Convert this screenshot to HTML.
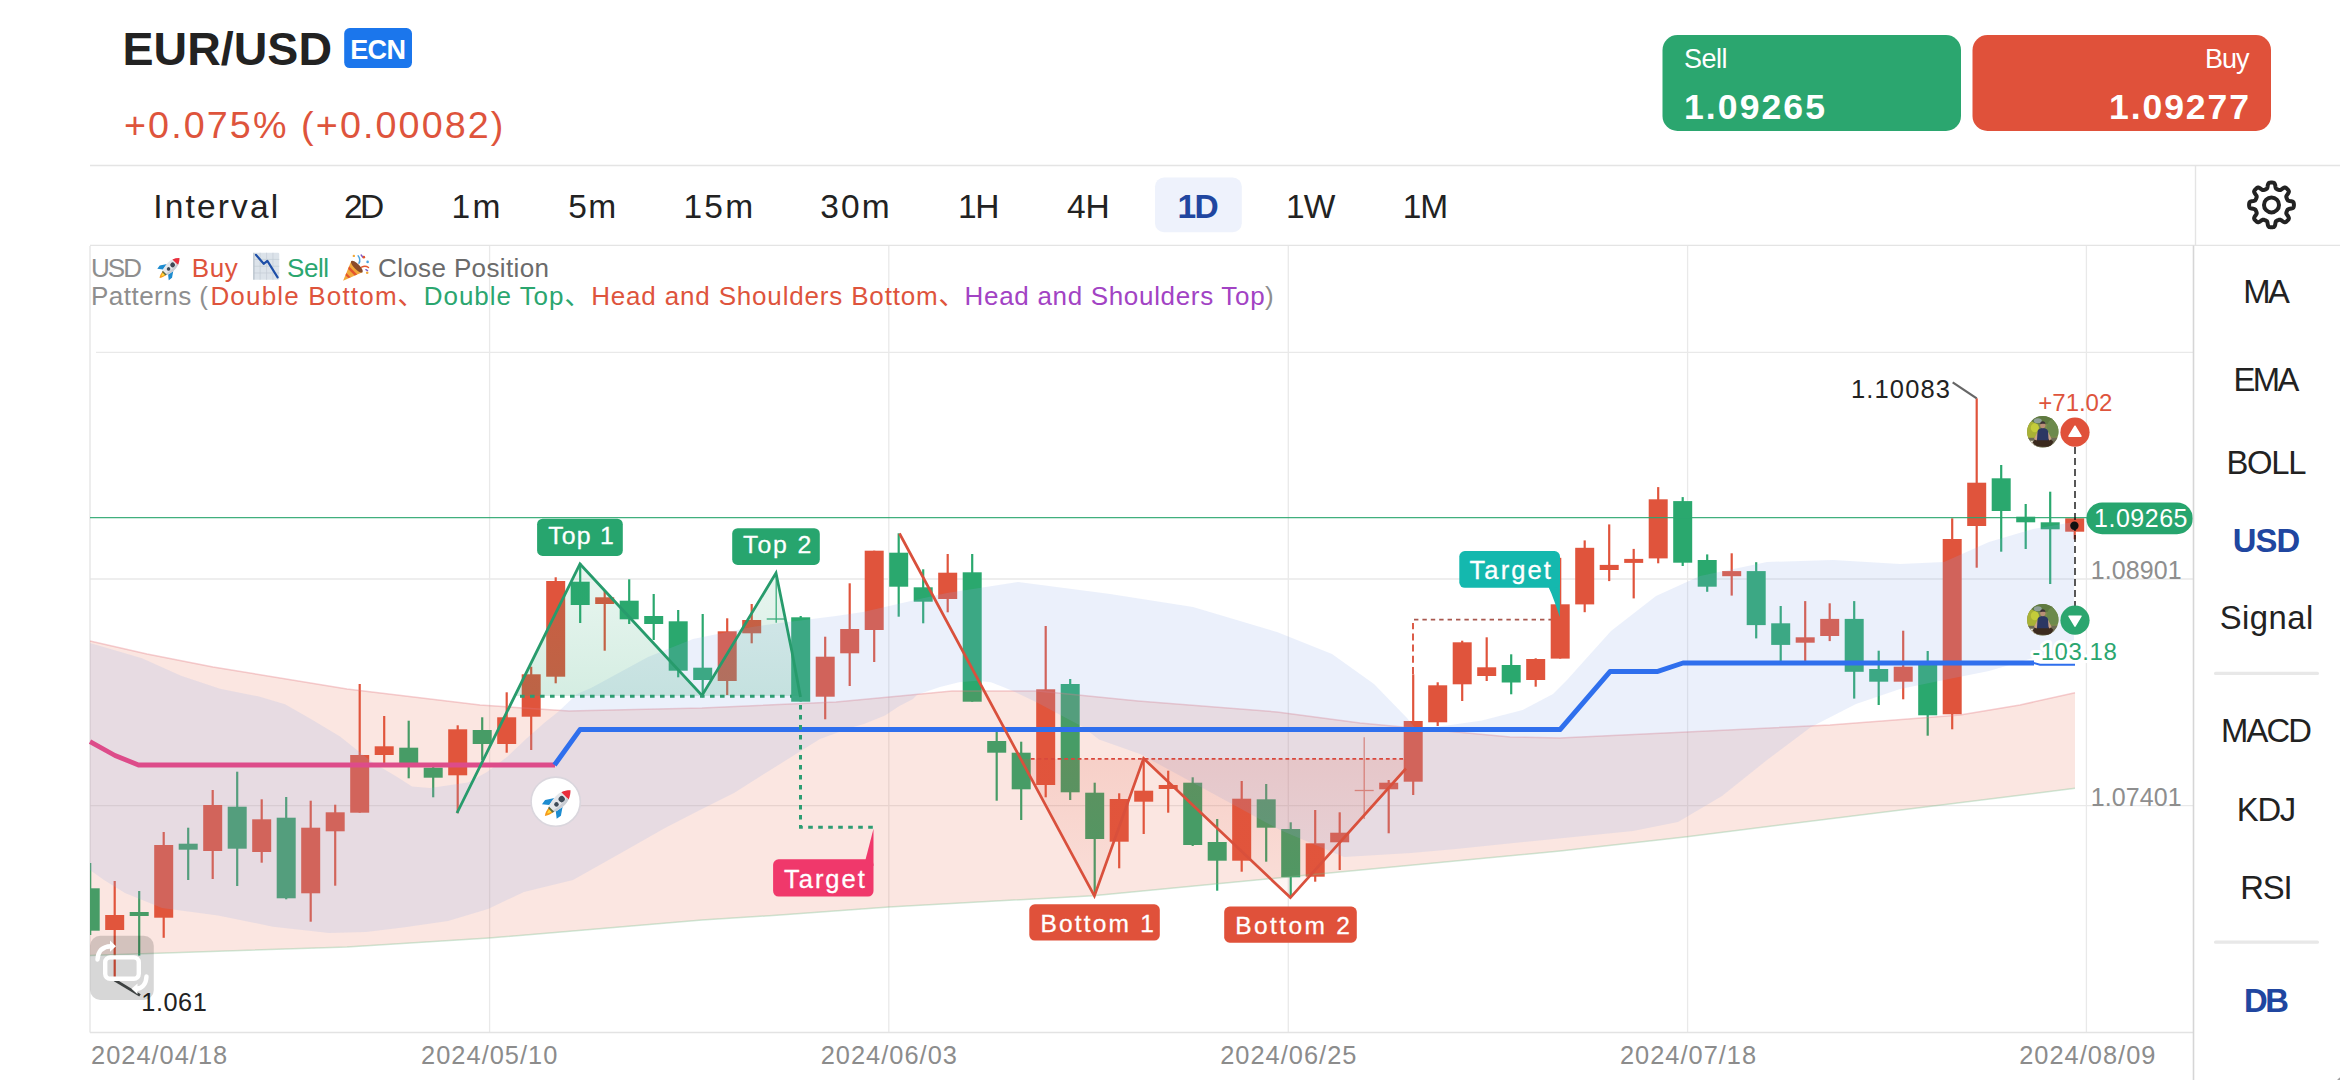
<!DOCTYPE html>
<html lang="en"><head><meta charset="utf-8"><title>EUR/USD</title>
<style>
html,body{margin:0;padding:0;background:#fff;}
body{width:2340px;height:1080px;overflow:hidden;position:relative;font-family:'Liberation Sans', sans-serif;}
svg{position:absolute;left:0;top:0;display:block;}
svg text{font-family:"Liberation Sans","Noto Sans CJK SC",sans-serif;}
</style></head><body>
<svg width="2340" height="1080" viewBox="0 0 2340 1080">
<defs>
<symbol id="rocket" viewBox="0 0 36 36">
 <g transform="rotate(45 18 18)">
  <path d="M14.800 27.500c.2 4.500 1.500 7.500 3.200 9.500 1.700-2 3-5 3.200-9.500z" fill="#F59B1C"/>
  <path d="M16.300 27.500c.1 2.800.8 4.800 1.700 6.200.9-1.400 1.600-3.400 1.700-6.200z" fill="#FFD93B"/>
  <path d="M12.300 17.500 6.800 25.500l.8 5.200 5.700-4.500zM23.700 17.500l5.500 8-.8 5.200-5.700-4.500z" fill="#1D8CD0"/>
  <path d="M18 .8c-4 3.800-6.300 9-6.300 14.500 0 4.500 1 8.700 2.300 12.200h8c1.300-3.500 2.300-7.700 2.300-12.200 0-5.500-2.300-10.700-6.300-14.500z" fill="#E4E6EA"/>
  <path d="M18 .8c-2.300 2.200-4 4.800-5.100 7.700h10.200C22 5.600 20.300 3 18 .8z" fill="#EA2E3C"/>
  <path d="M22 27.500c1.300-3.500 2.300-7.700 2.300-12.200 0-2.300-.4-4.600-1.200-6.800h-2.300c1 5.500.8 12.500-1 19z" fill="#C9CDD4"/>
  <circle cx="18" cy="13.200" r="3.100" fill="#3E4A57"/>
  <circle cx="18" cy="20.600" r="2.300" fill="#3E4A57"/>
  <path d="M14.300 27.500h7.400l-.6 1.800h-6.200z" fill="#5B6A48"/>
 </g>
</symbol>
<symbol id="chartdn" viewBox="0 0 36 36">
 <rect x="2.500" y="1.500" width="31" height="33" rx="1.500" fill="#DCE3EA"/>
 <g stroke="#C3CDD6" stroke-width="0.8">
  <path d="M2.500 9.700h31M2.500 18h31M2.500 26.200h31M10.200 1.500v33M18 1.500v33M25.800 1.500v33"/>
 </g>
 <path d="M2.500 1.500v33" stroke="#B5C0CA" stroke-width="1.6"/>
 <polyline points="5,4 14.500,15 19,11.500 31.500,31.500" fill="none" stroke="#1E4FA8" stroke-width="2.600" stroke-linejoin="round" stroke-linecap="round"/>
</symbol>
<symbol id="party" viewBox="0 0 36 36">
 <path d="M3 33.500 12.500 10.500 25.500 23.500z" fill="#F2A93B"/>
 <path d="M6.800 24.300l4.900 4.900-2.600 1.100-3.400-3.400zM10 16.600l9.400 9.400-3 1.200-7.600-7.600z" fill="#E4572E"/>
 <ellipse cx="19" cy="17" rx="3.200" ry="9.200" transform="rotate(-45 19 17)" fill="#8A4B2A"/>
 <path d="M21.500 13c1.500-3 1-6-1-8.500" fill="none" stroke="#4AA3DF" stroke-width="1.800" stroke-linecap="round"/>
 <path d="M24.500 17.500c3-1.500 6-1 8 .5" fill="none" stroke="#E4572E" stroke-width="1.800" stroke-linecap="round"/>
 <circle cx="27" cy="6" r="1.600" fill="#E4572E"/><circle cx="31.500" cy="11.500" r="1.500" fill="#4AA3DF"/>
 <circle cx="15.500" cy="4.500" r="1.400" fill="#F2A93B"/><circle cx="31" cy="24" r="1.500" fill="#F2A93B"/>
 <path d="M24 3.500l1.500 2M29.500 20.500l2 1" stroke="#7E57C2" stroke-width="1.600" stroke-linecap="round"/>
</symbol>
<symbol id="avatar" viewBox="0 0 32 32">
 <clipPath id="avc"><circle cx="16" cy="16" r="15.700"/></clipPath>
 <g clip-path="url(#avc)">
  <rect width="32" height="32" fill="#7C8B4C"/>
  <ellipse cx="5" cy="15" rx="8" ry="9" fill="#A9B236"/>
  <ellipse cx="8" cy="12" rx="4" ry="4.500" fill="#C4CC3A"/>
  <ellipse cx="16" cy="3" rx="12" ry="5.500" fill="#5F7A40"/>
  <ellipse cx="27" cy="12" rx="7" ry="9" fill="#6C8A4C"/>
  <ellipse cx="11" cy="5" rx="4" ry="2.500" fill="#8FA098"/>
  <rect x="0" y="22" width="32" height="10" fill="#6D6A55"/>
  <path d="M0 25h7l4 7H0z" fill="#E9E2D2"/>
  <path d="M5.500 26.500c3-3.500 7-4.500 10.500-4.500s8 1 10.500 4l-2.500 4.500c-6 1-12 .5-16-1z" fill="#3B2A1E"/>
  <path d="M11 15.500l-3.800 7.800 2.400 1.400 3.200-6zM21 15.500l3.800 7.800-2.400 1.400-3.200-6z" fill="#C9A184"/>
  <path d="M10.800 15.200c1-2.200 2.800-3 5.200-3s4.200.8 5.200 3l.6 9.300H10.200z" fill="#2C3763"/>
  <ellipse cx="16" cy="9.300" rx="2.700" ry="3.100" fill="#B98F76"/>
  <path d="M13.200 8.600c.2-2.200 1.300-3.100 2.800-3.100s2.600.9 2.800 3.100c-1-.8-4.600-.8-5.600 0z" fill="#3A3036"/>
 </g>
</symbol>
</defs>
<g stroke="#E9E9E9" stroke-width="1.3" fill="none">
<line x1="96" y1="352.3" x2="2193" y2="352.3"/>
<line x1="90" y1="579" x2="2193" y2="579"/>
<line x1="90" y1="805.7" x2="2193" y2="805.7"/>
<line x1="489.6" y1="246" x2="489.6" y2="1032"/>
<line x1="888.8" y1="246" x2="888.8" y2="1032"/>
<line x1="1288.3" y1="246" x2="1288.3" y2="1032"/>
<line x1="1687.6" y1="246" x2="1687.6" y2="1032"/>
<line x1="2086.4" y1="246" x2="2086.4" y2="1032"/>
</g>
<g stroke="#E3E3E3" stroke-width="1.3" fill="none">
<line x1="90" y1="246" x2="90" y2="1032.5"/>
<line x1="90" y1="1032.5" x2="2193" y2="1032.5"/>
</g>
<clipPath id="cc"><rect x="90" y="246" width="2104" height="786"/></clipPath>
<g clip-path="url(#cc)">
<line x1="90.2" y1="863" x2="90.2" y2="935" stroke="#2AA86E" stroke-width="2.2"/>
<rect x="80.7" y="888.3" width="19.0" height="42.4" fill="#2AA86E"/>
<line x1="114.7" y1="881" x2="114.7" y2="977" stroke="#E0543C" stroke-width="2.2"/>
<rect x="105.2" y="915" width="19.0" height="15.0" fill="#E0543C"/>
<line x1="139.2" y1="891" x2="139.2" y2="955.6" stroke="#2AA86E" stroke-width="2.2"/>
<rect x="129.7" y="912" width="19.0" height="4.0" fill="#2AA86E"/>
<line x1="163.7" y1="832" x2="163.7" y2="937.8" stroke="#E0543C" stroke-width="2.2"/>
<rect x="154.2" y="845" width="19.0" height="72.7" fill="#E0543C"/>
<line x1="188.2" y1="827.7" x2="188.2" y2="880" stroke="#2AA86E" stroke-width="2.2"/>
<rect x="178.7" y="843.7" width="19.0" height="6.0" fill="#2AA86E"/>
<line x1="212.7" y1="790" x2="212.7" y2="879" stroke="#E0543C" stroke-width="2.2"/>
<rect x="203.2" y="805" width="19.0" height="46.0" fill="#E0543C"/>
<line x1="237.2" y1="771.7" x2="237.2" y2="886" stroke="#2AA86E" stroke-width="2.2"/>
<rect x="227.7" y="806.7" width="19.0" height="42.0" fill="#2AA86E"/>
<line x1="261.7" y1="799.3" x2="261.7" y2="862.7" stroke="#E0543C" stroke-width="2.2"/>
<rect x="252.2" y="819.3" width="19.0" height="32.7" fill="#E0543C"/>
<line x1="286.2" y1="797" x2="286.2" y2="899.3" stroke="#2AA86E" stroke-width="2.2"/>
<rect x="276.7" y="817.7" width="19.0" height="80.6" fill="#2AA86E"/>
<line x1="310.7" y1="800.7" x2="310.7" y2="921.7" stroke="#E0543C" stroke-width="2.2"/>
<rect x="301.2" y="827.7" width="19.0" height="65.6" fill="#E0543C"/>
<line x1="335.2" y1="804.7" x2="335.2" y2="885.7" stroke="#E0543C" stroke-width="2.2"/>
<rect x="325.7" y="812.3" width="19.0" height="19.0" fill="#E0543C"/>
<line x1="359.7" y1="684" x2="359.7" y2="812.7" stroke="#E0543C" stroke-width="2.2"/>
<rect x="350.2" y="755" width="19.0" height="57.7" fill="#E0543C"/>
<line x1="384.2" y1="716" x2="384.2" y2="763.3" stroke="#E0543C" stroke-width="2.2"/>
<rect x="374.7" y="746.3" width="19.0" height="8.7" fill="#E0543C"/>
<line x1="408.7" y1="720.7" x2="408.7" y2="778.3" stroke="#2AA86E" stroke-width="2.2"/>
<rect x="399.2" y="747.7" width="19.0" height="18.3" fill="#2AA86E"/>
<line x1="433.2" y1="767" x2="433.2" y2="797.3" stroke="#2AA86E" stroke-width="2.2"/>
<rect x="423.7" y="767.7" width="19.0" height="10.0" fill="#2AA86E"/>
<line x1="457.7" y1="725.3" x2="457.7" y2="813.3" stroke="#E0543C" stroke-width="2.2"/>
<rect x="448.2" y="729.3" width="19.0" height="46.0" fill="#E0543C"/>
<line x1="482.2" y1="717.3" x2="482.2" y2="760" stroke="#2AA86E" stroke-width="2.2"/>
<rect x="472.7" y="730" width="19.0" height="14.0" fill="#2AA86E"/>
<line x1="506.7" y1="692.3" x2="506.7" y2="752.7" stroke="#E0543C" stroke-width="2.2"/>
<rect x="497.2" y="717.3" width="19.0" height="26.7" fill="#E0543C"/>
<line x1="531.2" y1="666.7" x2="531.2" y2="750" stroke="#E0543C" stroke-width="2.2"/>
<rect x="521.7" y="674.3" width="19.0" height="42.4" fill="#E0543C"/>
<line x1="555.7" y1="577.3" x2="555.7" y2="683.3" stroke="#E0543C" stroke-width="2.2"/>
<rect x="546.2" y="581" width="19.0" height="95.7" fill="#E0543C"/>
<line x1="580.2" y1="563" x2="580.2" y2="623" stroke="#2AA86E" stroke-width="2.2"/>
<rect x="570.7" y="581.7" width="19.0" height="23.3" fill="#2AA86E"/>
<line x1="604.7" y1="590" x2="604.7" y2="650.7" stroke="#E0543C" stroke-width="2.2"/>
<rect x="595.2" y="597.3" width="19.0" height="6.7" fill="#E0543C"/>
<line x1="629.2" y1="579.3" x2="629.2" y2="624" stroke="#2AA86E" stroke-width="2.2"/>
<rect x="619.7" y="600.7" width="19.0" height="18.6" fill="#2AA86E"/>
<line x1="653.7" y1="594" x2="653.7" y2="640" stroke="#2AA86E" stroke-width="2.2"/>
<rect x="644.2" y="616" width="19.0" height="8.0" fill="#2AA86E"/>
<line x1="678.2" y1="610" x2="678.2" y2="677.3" stroke="#2AA86E" stroke-width="2.2"/>
<rect x="668.7" y="621.3" width="19.0" height="49.4" fill="#2AA86E"/>
<line x1="702.7" y1="614" x2="702.7" y2="696.7" stroke="#2AA86E" stroke-width="2.2"/>
<rect x="693.2" y="667.7" width="19.0" height="12.3" fill="#2AA86E"/>
<line x1="727.2" y1="618.3" x2="727.2" y2="695" stroke="#E0543C" stroke-width="2.2"/>
<rect x="717.7" y="631.3" width="19.0" height="49.7" fill="#E0543C"/>
<line x1="751.7" y1="604" x2="751.7" y2="643.3" stroke="#E0543C" stroke-width="2.2"/>
<rect x="742.2" y="620" width="19.0" height="13.3" fill="#E0543C"/>
<line x1="776.2" y1="571.7" x2="776.2" y2="622.7" stroke="#3FAE7E" stroke-width="1.3"/>
<line x1="766.7" y1="619.0" x2="785.7" y2="619.0" stroke="#3FAE7E" stroke-width="1.3"/>
<line x1="800.7" y1="616" x2="800.7" y2="701.7" stroke="#2AA86E" stroke-width="2.2"/>
<rect x="791.2" y="617.3" width="19.0" height="84.4" fill="#2AA86E"/>
<line x1="825.2" y1="636.7" x2="825.2" y2="719.3" stroke="#E0543C" stroke-width="2.2"/>
<rect x="815.7" y="656.7" width="19.0" height="40.0" fill="#E0543C"/>
<line x1="849.7" y1="583.3" x2="849.7" y2="686" stroke="#E0543C" stroke-width="2.2"/>
<rect x="840.2" y="629" width="19.0" height="24.3" fill="#E0543C"/>
<line x1="874.2" y1="550.7" x2="874.2" y2="662" stroke="#E0543C" stroke-width="2.2"/>
<rect x="864.7" y="550.7" width="19.0" height="79.3" fill="#E0543C"/>
<line x1="898.7" y1="533.3" x2="898.7" y2="616.7" stroke="#2AA86E" stroke-width="2.2"/>
<rect x="889.2" y="552.7" width="19.0" height="34.0" fill="#2AA86E"/>
<line x1="923.2" y1="569.3" x2="923.2" y2="623.3" stroke="#2AA86E" stroke-width="2.2"/>
<rect x="913.7" y="587.3" width="19.0" height="14.4" fill="#2AA86E"/>
<line x1="947.7" y1="554" x2="947.7" y2="612.3" stroke="#E0543C" stroke-width="2.2"/>
<rect x="938.2" y="572.7" width="19.0" height="26.3" fill="#E0543C"/>
<line x1="972.2" y1="554" x2="972.2" y2="701.7" stroke="#2AA86E" stroke-width="2.2"/>
<rect x="962.7" y="572.3" width="19.0" height="129.4" fill="#2AA86E"/>
<line x1="996.7" y1="731.7" x2="996.7" y2="800.7" stroke="#2AA86E" stroke-width="2.2"/>
<rect x="987.2" y="741" width="19.0" height="11.7" fill="#2AA86E"/>
<line x1="1021.2" y1="741.7" x2="1021.2" y2="820" stroke="#2AA86E" stroke-width="2.2"/>
<rect x="1011.7" y="752.7" width="19.0" height="36.6" fill="#2AA86E"/>
<line x1="1045.7" y1="626" x2="1045.7" y2="797.3" stroke="#E0543C" stroke-width="2.2"/>
<rect x="1036.2" y="689.3" width="19.0" height="95.7" fill="#E0543C"/>
<line x1="1070.2" y1="679" x2="1070.2" y2="800" stroke="#2AA86E" stroke-width="2.2"/>
<rect x="1060.7" y="684" width="19.0" height="108.3" fill="#2AA86E"/>
<line x1="1094.7" y1="782.7" x2="1094.7" y2="895.7" stroke="#2AA86E" stroke-width="2.2"/>
<rect x="1085.2" y="792.7" width="19.0" height="46.3" fill="#2AA86E"/>
<line x1="1119.2" y1="793.3" x2="1119.2" y2="868.3" stroke="#E0543C" stroke-width="2.2"/>
<rect x="1109.7" y="799" width="19.0" height="42.7" fill="#E0543C"/>
<line x1="1143.7" y1="760" x2="1143.7" y2="834" stroke="#E0543C" stroke-width="2.2"/>
<rect x="1134.2" y="790.7" width="19.0" height="11.0" fill="#E0543C"/>
<line x1="1168.2" y1="770.7" x2="1168.2" y2="812.7" stroke="#E0543C" stroke-width="2.2"/>
<rect x="1158.7" y="785" width="19.0" height="4.0" fill="#E0543C"/>
<line x1="1192.7" y1="777.3" x2="1192.7" y2="846" stroke="#2AA86E" stroke-width="2.2"/>
<rect x="1183.2" y="782.7" width="19.0" height="62.3" fill="#2AA86E"/>
<line x1="1217.2" y1="819" x2="1217.2" y2="890.7" stroke="#2AA86E" stroke-width="2.2"/>
<rect x="1207.7" y="842" width="19.0" height="18.7" fill="#2AA86E"/>
<line x1="1241.7" y1="781" x2="1241.7" y2="871.7" stroke="#E0543C" stroke-width="2.2"/>
<rect x="1232.2" y="798.7" width="19.0" height="62.0" fill="#E0543C"/>
<line x1="1266.2" y1="784" x2="1266.2" y2="861.7" stroke="#2AA86E" stroke-width="2.2"/>
<rect x="1256.7" y="799.3" width="19.0" height="28.4" fill="#2AA86E"/>
<line x1="1290.7" y1="822.3" x2="1290.7" y2="896.7" stroke="#2AA86E" stroke-width="2.2"/>
<rect x="1281.2" y="829" width="19.0" height="48.3" fill="#2AA86E"/>
<line x1="1315.2" y1="810" x2="1315.2" y2="881.7" stroke="#E0543C" stroke-width="2.2"/>
<rect x="1305.7" y="843.3" width="19.0" height="33.4" fill="#E0543C"/>
<line x1="1339.7" y1="812.3" x2="1339.7" y2="870" stroke="#E0543C" stroke-width="2.2"/>
<rect x="1330.2" y="832.7" width="19.0" height="9.6" fill="#E0543C"/>
<line x1="1364.2" y1="737.3" x2="1364.2" y2="819" stroke="#E58A7A" stroke-width="1.3"/>
<line x1="1354.7" y1="790.5" x2="1373.7" y2="790.5" stroke="#E58A7A" stroke-width="1.3"/>
<line x1="1388.7" y1="780" x2="1388.7" y2="833.3" stroke="#E0543C" stroke-width="2.2"/>
<rect x="1379.2" y="782.7" width="19.0" height="6.6" fill="#E0543C"/>
<line x1="1413.2" y1="674.3" x2="1413.2" y2="795" stroke="#E0543C" stroke-width="2.2"/>
<rect x="1403.7" y="721" width="19.0" height="60.7" fill="#E0543C"/>
<line x1="1437.7" y1="682.3" x2="1437.7" y2="726" stroke="#E0543C" stroke-width="2.2"/>
<rect x="1428.2" y="685.3" width="19.0" height="37.0" fill="#E0543C"/>
<line x1="1462.2" y1="640.7" x2="1462.2" y2="701" stroke="#E0543C" stroke-width="2.2"/>
<rect x="1452.7" y="642.3" width="19.0" height="42.0" fill="#E0543C"/>
<line x1="1486.7" y1="637.3" x2="1486.7" y2="681" stroke="#E0543C" stroke-width="2.2"/>
<rect x="1477.2" y="667.3" width="19.0" height="8.7" fill="#E0543C"/>
<line x1="1511.2" y1="654.3" x2="1511.2" y2="694.3" stroke="#2AA86E" stroke-width="2.2"/>
<rect x="1501.7" y="665" width="19.0" height="17.5" fill="#2AA86E"/>
<line x1="1535.7" y1="658.3" x2="1535.7" y2="686.7" stroke="#E0543C" stroke-width="2.2"/>
<rect x="1526.2" y="659" width="19.0" height="21.0" fill="#E0543C"/>
<line x1="1560.2" y1="557.8" x2="1560.2" y2="658.6" stroke="#E0543C" stroke-width="2.2"/>
<rect x="1550.7" y="604.3" width="19.0" height="54.3" fill="#E0543C"/>
<line x1="1584.7" y1="540.4" x2="1584.7" y2="612.2" stroke="#E0543C" stroke-width="2.2"/>
<rect x="1575.2" y="547.8" width="19.0" height="56.6" fill="#E0543C"/>
<line x1="1609.2" y1="524.4" x2="1609.2" y2="581.1" stroke="#E0543C" stroke-width="2.2"/>
<rect x="1599.7" y="564.9" width="19.0" height="5.1" fill="#E0543C"/>
<line x1="1633.7" y1="548.9" x2="1633.7" y2="598.4" stroke="#E0543C" stroke-width="2.2"/>
<rect x="1624.2" y="558.9" width="19.0" height="4.0" fill="#E0543C"/>
<line x1="1658.2" y1="487.1" x2="1658.2" y2="563.3" stroke="#E0543C" stroke-width="2.2"/>
<rect x="1648.7" y="499.3" width="19.0" height="59.1" fill="#E0543C"/>
<line x1="1682.7" y1="497.1" x2="1682.7" y2="566" stroke="#2AA86E" stroke-width="2.2"/>
<rect x="1673.2" y="501.1" width="19.0" height="61.6" fill="#2AA86E"/>
<line x1="1707.2" y1="554.4" x2="1707.2" y2="591.8" stroke="#2AA86E" stroke-width="2.2"/>
<rect x="1697.7" y="560" width="19.0" height="26.7" fill="#2AA86E"/>
<line x1="1731.7" y1="553.3" x2="1731.7" y2="595.6" stroke="#E0543C" stroke-width="2.2"/>
<rect x="1722.2" y="571.1" width="19.0" height="5.1" fill="#E0543C"/>
<line x1="1756.2" y1="562.2" x2="1756.2" y2="638.4" stroke="#2AA86E" stroke-width="2.2"/>
<rect x="1746.7" y="571.1" width="19.0" height="54.0" fill="#2AA86E"/>
<line x1="1780.7" y1="606" x2="1780.7" y2="661.6" stroke="#2AA86E" stroke-width="2.2"/>
<rect x="1771.2" y="623.3" width="19.0" height="21.6" fill="#2AA86E"/>
<line x1="1805.2" y1="601.1" x2="1805.2" y2="661.6" stroke="#E0543C" stroke-width="2.2"/>
<rect x="1795.7" y="637.3" width="19.0" height="5.4" fill="#E0543C"/>
<line x1="1829.7" y1="603.3" x2="1829.7" y2="641.1" stroke="#E0543C" stroke-width="2.2"/>
<rect x="1820.2" y="618.9" width="19.0" height="17.1" fill="#E0543C"/>
<line x1="1854.2" y1="601.1" x2="1854.2" y2="698.6" stroke="#2AA86E" stroke-width="2.2"/>
<rect x="1844.7" y="618.9" width="19.0" height="52.9" fill="#2AA86E"/>
<line x1="1878.7" y1="650.7" x2="1878.7" y2="705" stroke="#2AA86E" stroke-width="2.2"/>
<rect x="1869.2" y="669" width="19.0" height="12.7" fill="#2AA86E"/>
<line x1="1903.2" y1="630.7" x2="1903.2" y2="699.3" stroke="#E0543C" stroke-width="2.2"/>
<rect x="1893.7" y="666.7" width="19.0" height="15.0" fill="#E0543C"/>
<line x1="1927.7" y1="651" x2="1927.7" y2="735.7" stroke="#2AA86E" stroke-width="2.2"/>
<rect x="1918.2" y="663.3" width="19.0" height="52.0" fill="#2AA86E"/>
<line x1="1952.2" y1="518.3" x2="1952.2" y2="729.3" stroke="#E0543C" stroke-width="2.2"/>
<rect x="1942.7" y="539" width="19.0" height="175.3" fill="#E0543C"/>
<line x1="1976.7" y1="398.3" x2="1976.7" y2="567.7" stroke="#E0543C" stroke-width="2.2"/>
<rect x="1967.2" y="482.7" width="19.0" height="43.3" fill="#E0543C"/>
<line x1="2001.2" y1="465" x2="2001.2" y2="551.7" stroke="#2AA86E" stroke-width="2.2"/>
<rect x="1991.7" y="478.3" width="19.0" height="32.7" fill="#2AA86E"/>
<line x1="2025.7" y1="504" x2="2025.7" y2="549" stroke="#2AA86E" stroke-width="2.2"/>
<rect x="2016.2" y="516.7" width="19.0" height="5.6" fill="#2AA86E"/>
<line x1="2050.2" y1="491.7" x2="2050.2" y2="584" stroke="#2AA86E" stroke-width="2.2"/>
<rect x="2040.7" y="522.3" width="19.0" height="7.0" fill="#2AA86E"/>
<line x1="2074.7" y1="518.3" x2="2074.7" y2="539.3" stroke="#E0543C" stroke-width="2.2"/>
<rect x="2065.2" y="518.3" width="19.0" height="13.4" fill="#E0543C"/>
<polygon points="90.0,641.0 147.0,654.0 213.0,667.0 347.0,689.0 480.0,705.0 569.0,711.0 702.0,708.0 836.0,702.0 900.0,696.0 952.0,691.0 1038.0,691.0 1138.0,701.0 1277.0,712.0 1360.0,723.0 1510.0,737.0 1560.0,738.0 1687.0,732.0 1830.0,725.0 1960.0,715.0 2020.0,705.0 2075.0,692.7 2075.0,788.3 1687.0,836.7 1560.0,851.0 1290.0,876.7 1093.0,895.7 889.0,907.0 780.0,915.0 702.0,920.0 489.0,938.0 347.0,947.0 90.0,955.6" fill="rgba(232,96,64,0.155)"/>
<polyline points="90.0,641.0 147.0,654.0 213.0,667.0 347.0,689.0 480.0,705.0 569.0,711.0 702.0,708.0 836.0,702.0 900.0,696.0 952.0,691.0 1038.0,691.0 1138.0,701.0 1277.0,712.0 1360.0,723.0 1510.0,737.0 1560.0,738.0 1687.0,732.0 1830.0,725.0 1960.0,715.0 2020.0,705.0 2075.0,692.7" fill="none" stroke="rgba(226,120,130,0.35)" stroke-width="1.5"/>
<polyline points="2075.0,788.3 1687.0,836.7 1560.0,851.0 1290.0,876.7 1093.0,895.7 889.0,907.0 780.0,915.0 702.0,920.0 489.0,938.0 347.0,947.0 90.0,955.6" fill="none" stroke="rgba(120,190,140,0.35)" stroke-width="1.5"/>
<polygon points="90.0,643.0 142.0,658.3 181.0,675.8 220.0,688.7 259.0,696.5 285.0,704.3 310.0,718.6 340.0,736.4 372.0,762.0 398.0,777.4 412.0,786.4 430.0,788.0 468.0,782.6 487.0,772.0 507.0,757.0 526.0,739.0 545.0,722.3 558.0,712.0 577.0,694.0 591.0,688.0 648.0,657.0 693.0,639.0 752.0,627.0 780.0,623.0 836.0,616.0 863.0,612.0 924.0,598.0 947.0,593.0 1018.0,582.0 1110.0,594.0 1193.0,607.0 1277.0,632.0 1332.0,654.0 1374.0,684.0 1407.0,718.0 1416.0,729.0 1447.0,725.5 1482.0,720.4 1522.6,710.0 1553.0,694.0 1567.0,680.0 1584.0,661.0 1611.0,631.0 1656.0,596.0 1700.0,576.0 1767.0,562.0 1833.0,560.0 1900.0,564.0 1944.0,562.0 1989.0,542.0 2033.0,529.0 2074.0,522.0 2074.0,653.0 2033.0,658.0 1989.0,671.0 1944.0,680.0 1900.0,689.0 1856.0,704.0 1811.0,727.0 1767.0,760.0 1722.0,796.0 1678.0,822.0 1633.0,831.0 1544.0,840.0 1456.0,849.0 1411.0,853.0 1344.0,857.0 1280.0,830.0 1221.0,798.0 1140.0,754.0 1099.0,739.6 1083.0,727.0 1036.0,702.0 1014.0,691.5 1005.0,687.8 991.0,682.2 977.0,680.8 959.0,682.2 940.0,687.0 917.0,694.7 913.0,699.0 899.0,706.3 885.0,715.6 864.0,724.0 850.0,728.0 820.0,739.0 789.6,758.0 734.0,793.0 700.0,810.0 665.0,828.0 621.0,853.0 573.0,880.0 524.0,892.0 488.0,909.0 448.0,921.0 403.0,927.6 366.0,932.0 329.0,933.0 273.0,926.7 218.0,915.6 162.0,908.0 125.0,893.0 104.0,880.0 90.0,870.0" fill="rgba(144,172,233,0.18)"/>
<linearGradient id="gf" x1="0" y1="0" x2="0" y2="1"><stop offset="0" stop-color="#2BA66F" stop-opacity="0.10"/><stop offset="1" stop-color="#2BA66F" stop-opacity="0.20"/></linearGradient>
<polygon points="514.6,696 580,563 702,696 776,572 800,696" fill="url(#gf)"/>
<linearGradient id="rf" x1="0" y1="0" x2="0" y2="1"><stop offset="0" stop-color="#E0513A" stop-opacity="0.15"/><stop offset="1" stop-color="#E0513A" stop-opacity="0.05"/></linearGradient>
<polygon points="1021.2,759 1094.4,896 1143.6,758.5 1290.4,897.6 1406,768.5 1406,759" fill="url(#rf)"/>
</g>
<polyline points="90,741.7 115,755.5 138.5,765 555,765" fill="none" stroke="#DD4C8A" stroke-width="4.8" stroke-linejoin="round"/>
<polyline points="554.5,765 580,729.6 1560,729.6 1610,671.6 1657.8,671.4 1683,663 2034,663" fill="none" stroke="#2F6FED" stroke-width="5" stroke-linejoin="round"/>
<polyline points="2030,662 2040,664.8 2075,664.8" fill="none" stroke="#2F6FED" stroke-width="2"/>
<line x1="90" y1="517.6" x2="2088" y2="517.6" stroke="#2BA66F" stroke-width="1.4" stroke-opacity="0.9"/>
<g fill="none" stroke="#279B6C" stroke-width="2.8" stroke-linejoin="miter">
<polyline points="457,813 580,564 702,695.5 776,573 792,652 800.5,697"/>
</g>
<g fill="none" stroke="#2C9D72" stroke-width="3" stroke-dasharray="4.6 5.4">
<line x1="520" y1="696.3" x2="792" y2="696.3"/>
<polyline points="800.5,705 800.5,827.3 874,827.3"/>
</g>
<g fill="none" stroke="#D9503C" stroke-width="2.7" stroke-linejoin="miter">
<polyline points="899.5,533.5 1094.4,896 1143.6,758.5 1290.4,897.6 1406,768.5"/>
</g>
<g fill="none" stroke="#D9483C" stroke-width="1.8" stroke-dasharray="3.8 2.9">
<line x1="1030.8" y1="758.8" x2="1404" y2="758.8"/>
</g>
<line x1="1413" y1="674" x2="1413" y2="623" stroke="#DB5540" stroke-width="1.9" stroke-dasharray="7 4.2"/>
<line x1="1414" y1="619.7" x2="1551" y2="619.7" stroke="#A9584F" stroke-width="1.7" stroke-dasharray="4.4 4"/>
<rect x="537.1" y="518.7" width="85.7" height="37.2" rx="5.5" fill="#27A56E"/>
<text x="548.2" y="544.0" font-size="24.8" fill="#fff" textLength="65.5" stroke="#fff" stroke-width="0.3">Top 1</text>
<rect x="732.2" y="528.2" width="87.6" height="36.7" rx="5.5" fill="#27A56E"/>
<text x="743.1" y="553.1" font-size="24.8" fill="#fff" textLength="68.3" stroke="#fff" stroke-width="0.3">Top 2</text>
<rect x="1029.3" y="904.3" width="130.5" height="36.3" rx="5.5" fill="#E0513A"/>
<text x="1040.5" y="931.6" font-size="24.5" fill="#fff" textLength="113.3" stroke="#fff" stroke-width="0.3">Bottom 1</text>
<rect x="1224.2" y="906.6" width="132.6" height="36.1" rx="5.5" fill="#E0513A"/>
<text x="1235.3" y="933.8" font-size="24.5" fill="#fff" textLength="114.7" stroke="#fff" stroke-width="0.3">Bottom 2</text>
<path d="M865.3,860.5 L873.5,828.7 L873.5,866 Z" fill="#F0386B"/>
<rect x="773.1" y="859.3" width="100.4" height="37.2" rx="5.5" fill="#F0386B"/>
<text x="784.0" y="888.3" font-size="25.5" fill="#fff" textLength="80.8" stroke="#fff" stroke-width="0.3">Target</text>
<path d="M1548,586 C1553,596 1556,606 1559.8,617 L1560,560 Z" fill="#14B8AE"/>
<rect x="1459.3" y="551.1" width="100.7" height="36.7" rx="5.5" fill="#14B8AE"/>
<text x="1469.5" y="578.9" font-size="25.5" fill="#fff" textLength="81.4" stroke="#fff" stroke-width="0.3">Target</text>
<circle cx="555.7" cy="801.7" r="24.6" fill="#fff" stroke="#DAD6DD" stroke-width="1.6"/>
<use href="#rocket" x="540.3" y="784.5" width="36" height="36"/>
<text x="1851" y="398.3" font-size="25.5" fill="#222" textLength="99">1.10083</text>
<polyline points="1952.7,382.3 1976.7,398.3" fill="none" stroke="#666" stroke-width="2.2"/>
<polyline points="114.6,980 140,995.4" fill="none" stroke="#4A4F4F" stroke-width="2.8"/>
<text x="141.3" y="1010.6" font-size="25.3" fill="#222" textLength="65.5">1.061</text>
<line x1="2075" y1="447" x2="2075" y2="606" stroke="#111" stroke-width="1.4" stroke-dasharray="7 4"/>
<circle cx="2074.4" cy="525.8" r="4.2" fill="#111"/>
<use href="#avatar" x="2026.8" y="415.8" width="32" height="32"/>
<circle cx="2075" cy="432.2" r="14.6" fill="#E0513A"/>
<path d="M2075,426.2 L2081,436.2 L2069,436.2 Z" fill="#fff" stroke="#fff" stroke-width="1.5" stroke-linejoin="round"/>
<use href="#avatar" x="2026.8" y="603.8000000000001" width="32" height="32"/>
<circle cx="2075" cy="620.2" r="14.6" fill="#2BA66F"/>
<path d="M2075,626.2 L2081,616.2 L2069,616.2 Z" fill="#fff" stroke="#fff" stroke-width="1.5" stroke-linejoin="round"/>
<text x="2075.3" y="411" font-size="24" fill="#DE543C" text-anchor="middle" textLength="74">+71.02</text>
<text x="2074.5" y="660" font-size="24" fill="#2BA66F" text-anchor="middle" textLength="84.5" stroke="#fff" stroke-width="6" paint-order="stroke" stroke-linejoin="round">-103.18</text>
<rect x="2086.4" y="502.6" width="106.4" height="31.6" rx="15.8" fill="#27A56E"/>
<text x="2094" y="527" font-size="25" fill="#fff" textLength="93.5">1.09265</text>
<text x="2090.7" y="578.7" font-size="25" fill="#8E8E8E" textLength="91">1.08901</text>
<text x="2090.7" y="805.7" font-size="25" fill="#8E8E8E" textLength="91">1.07401</text>
<text x="91" y="1063.8" font-size="25.4" fill="#8C8C8C" textLength="136.2">2024/04/18</text>
<text x="489.2" y="1063.8" font-size="25.4" fill="#8C8C8C" text-anchor="middle" textLength="136.2">2024/05/10</text>
<text x="888.8" y="1063.8" font-size="25.4" fill="#8C8C8C" text-anchor="middle" textLength="136.2">2024/06/03</text>
<text x="1288.3" y="1063.8" font-size="25.4" fill="#8C8C8C" text-anchor="middle" textLength="136.2">2024/06/25</text>
<text x="1688" y="1063.8" font-size="25.4" fill="#8C8C8C" text-anchor="middle" textLength="136.2">2024/07/18</text>
<text x="2087.3" y="1063.8" font-size="25.4" fill="#8C8C8C" text-anchor="middle" textLength="136.2">2024/08/09</text>
<rect x="90.2" y="935.8" width="63.6" height="64.2" rx="10" fill="rgba(0,0,0,0.155)"/>
<g fill="none" stroke="#fff" stroke-width="4.4" stroke-linecap="round" stroke-linejoin="round">
<rect x="105.2" y="957.4" width="33.6" height="21.4" rx="5"/>
<path d="M97.5,959.5 C98,950 103,946.5 111,946.2"/>
<path d="M146.5,976.5 C146,985 141.5,988.5 136.5,988.8"/>
</g>
<path d="M110,940.6 L116,946.2 L110,951.8 Z" fill="#fff"/>
<path d="M137.5,983.4 L131.5,988.8 L137.5,994.2 Z" fill="#fff"/>
<text x="122.5" y="65" font-size="46.5" fill="#222" font-weight="bold" textLength="209.5">EUR/USD</text>
<rect x="344.2" y="28.1" width="67.8" height="39.9" rx="5.500" fill="#1B76EC"/>
<text x="350.2" y="58.8" font-size="27" fill="#fff" font-weight="bold" textLength="55.8">ECN</text>
<text x="124" y="138.2" font-size="37.7" fill="#DE543C" textLength="379.4">+0.075% (+0.00082)</text>
<rect x="1662.5" y="35" width="298.5" height="96" rx="15" fill="#2BA66F"/>
<rect x="1972.5" y="35" width="298.5" height="96" rx="15" fill="#E0513A"/>
<text x="1684" y="68" font-size="27" fill="#fff" textLength="43.5">Sell</text>
<text x="1684" y="119" font-size="35.6" fill="#fff" font-weight="bold" textLength="141">1.09265</text>
<text x="2249.5" y="68" font-size="27" fill="#fff" text-anchor="end" textLength="44.5">Buy</text>
<text x="2249" y="119" font-size="35.6" fill="#fff" font-weight="bold" text-anchor="end" textLength="140">1.09277</text>
<g stroke="#E4E4E4" stroke-width="1.4">
<line x1="90" y1="165.5" x2="2340" y2="165.5"/>
<line x1="90" y1="245.4" x2="2340" y2="245.4"/>
<line x1="2195.5" y1="165.5" x2="2195.5" y2="245.4"/>
</g>
<line x1="2193.5" y1="245.4" x2="2193.5" y2="1080" stroke="#D6D6D6" stroke-width="1.6"/>
<rect x="1155" y="177.5" width="86.8" height="54.7" rx="9" fill="#EEF2FC"/>
<text x="153.2" y="217.9" font-size="33.5" fill="#222" textLength="125">Interval</text>
<text x="343.9" y="217.9" font-size="33.5" fill="#222" textLength="40.4">2D</text>
<text x="451.6" y="217.9" font-size="33.5" fill="#222" textLength="48.7">1m</text>
<text x="568.2" y="217.9" font-size="33.5" fill="#222" textLength="47.9">5m</text>
<text x="683.4" y="217.9" font-size="33.5" fill="#222" textLength="69.7">15m</text>
<text x="820.3" y="217.9" font-size="33.5" fill="#222" textLength="69.4">30m</text>
<text x="957.9" y="217.9" font-size="33.5" fill="#222" textLength="41.6">1H</text>
<text x="1067.1" y="217.9" font-size="33.5" fill="#222" textLength="42.5">4H</text>
<text x="1286" y="217.9" font-size="33.5" fill="#222" textLength="49.4">1W</text>
<text x="1402.7" y="217.9" font-size="33.5" fill="#222" textLength="45.5">1M</text>
<text x="1177.5" y="217.9" font-size="33.5" fill="#2046A0" font-weight="bold" textLength="41.3">1D</text>
<path d="M2293.9,204.9 L2293.9,205.5 L2293.8,206.1 L2293.7,206.7 L2293.6,207.2 L2293.2,207.8 L2292.5,208.2 L2291.3,208.6 L2289.9,208.8 L2288.8,209.0 L2288.0,209.3 L2287.6,209.7 L2287.4,210.1 L2287.2,210.5 L2287.0,210.9 L2286.8,211.3 L2286.7,211.7 L2286.5,212.1 L2286.4,212.5 L2286.3,212.9 L2286.3,213.5 L2286.6,214.2 L2287.3,215.2 L2288.1,216.3 L2288.7,217.4 L2288.9,218.2 L2288.7,218.9 L2288.5,219.4 L2288.1,219.9 L2287.7,220.3 L2287.3,220.7 L2286.9,221.1 L2286.5,221.5 L2286.0,221.9 L2285.5,222.1 L2284.8,222.3 L2284.0,222.1 L2282.9,221.5 L2281.8,220.7 L2280.8,220.0 L2280.1,219.7 L2279.5,219.7 L2279.1,219.8 L2278.7,219.9 L2278.3,220.1 L2277.9,220.2 L2277.5,220.4 L2277.1,220.6 L2276.7,220.8 L2276.3,221.0 L2275.9,221.4 L2275.6,222.2 L2275.4,223.3 L2275.2,224.7 L2274.8,225.9 L2274.4,226.6 L2273.8,227.0 L2273.3,227.1 L2272.7,227.2 L2272.1,227.3 L2271.5,227.3 L2270.9,227.3 L2270.3,227.2 L2269.7,227.1 L2269.2,227.0 L2268.6,226.6 L2268.2,225.9 L2267.8,224.7 L2267.6,223.3 L2267.4,222.2 L2267.1,221.4 L2266.7,221.0 L2266.3,220.8 L2265.9,220.6 L2265.5,220.4 L2265.1,220.2 L2264.7,220.1 L2264.3,219.9 L2263.9,219.8 L2263.5,219.7 L2262.9,219.7 L2262.2,220.0 L2261.2,220.7 L2260.1,221.5 L2259.0,222.1 L2258.2,222.3 L2257.5,222.1 L2257.0,221.9 L2256.5,221.5 L2256.1,221.1 L2255.7,220.7 L2255.3,220.3 L2254.9,219.9 L2254.5,219.4 L2254.3,218.9 L2254.1,218.2 L2254.3,217.4 L2254.9,216.3 L2255.7,215.2 L2256.4,214.2 L2256.7,213.5 L2256.7,212.9 L2256.6,212.5 L2256.5,212.1 L2256.3,211.7 L2256.2,211.3 L2256.0,210.9 L2255.8,210.5 L2255.6,210.1 L2255.4,209.7 L2255.0,209.3 L2254.2,209.0 L2253.1,208.8 L2251.7,208.6 L2250.5,208.2 L2249.8,207.8 L2249.4,207.2 L2249.3,206.7 L2249.2,206.1 L2249.1,205.5 L2249.1,204.9 L2249.1,204.3 L2249.2,203.7 L2249.3,203.1 L2249.4,202.6 L2249.8,202.0 L2250.5,201.6 L2251.7,201.2 L2253.1,201.0 L2254.2,200.8 L2255.0,200.5 L2255.4,200.1 L2255.6,199.7 L2255.8,199.3 L2256.0,198.9 L2256.2,198.5 L2256.3,198.1 L2256.5,197.7 L2256.6,197.3 L2256.7,196.9 L2256.7,196.3 L2256.4,195.6 L2255.7,194.6 L2254.9,193.5 L2254.3,192.4 L2254.1,191.6 L2254.3,190.9 L2254.5,190.4 L2254.9,189.9 L2255.3,189.5 L2255.7,189.1 L2256.1,188.7 L2256.5,188.3 L2257.0,187.9 L2257.5,187.7 L2258.2,187.5 L2259.0,187.7 L2260.1,188.3 L2261.2,189.1 L2262.2,189.8 L2262.9,190.1 L2263.5,190.1 L2263.9,190.0 L2264.3,189.9 L2264.7,189.7 L2265.1,189.6 L2265.5,189.4 L2265.9,189.2 L2266.3,189.0 L2266.7,188.8 L2267.1,188.4 L2267.4,187.6 L2267.6,186.5 L2267.8,185.1 L2268.2,183.9 L2268.6,183.2 L2269.2,182.8 L2269.7,182.7 L2270.3,182.6 L2270.9,182.5 L2271.5,182.5 L2272.1,182.5 L2272.7,182.6 L2273.3,182.7 L2273.8,182.8 L2274.4,183.2 L2274.8,183.9 L2275.2,185.1 L2275.4,186.5 L2275.6,187.6 L2275.9,188.4 L2276.3,188.8 L2276.7,189.0 L2277.1,189.2 L2277.5,189.4 L2277.9,189.6 L2278.3,189.7 L2278.7,189.9 L2279.1,190.0 L2279.5,190.1 L2280.1,190.1 L2280.8,189.8 L2281.8,189.1 L2282.9,188.3 L2284.0,187.7 L2284.8,187.5 L2285.5,187.7 L2286.0,187.9 L2286.5,188.3 L2286.9,188.7 L2287.3,189.1 L2287.7,189.5 L2288.1,189.9 L2288.5,190.4 L2288.7,190.9 L2288.9,191.6 L2288.7,192.4 L2288.1,193.5 L2287.3,194.6 L2286.6,195.6 L2286.3,196.3 L2286.3,196.9 L2286.4,197.3 L2286.5,197.7 L2286.7,198.1 L2286.8,198.5 L2287.0,198.9 L2287.2,199.3 L2287.4,199.7 L2287.6,200.1 L2288.0,200.5 L2288.8,200.8 L2289.9,201.0 L2291.3,201.2 L2292.5,201.6 L2293.2,202.0 L2293.6,202.6 L2293.7,203.1 L2293.8,203.7 L2293.9,204.3 Z" fill="none" stroke="#222" stroke-width="4" stroke-linejoin="round"/>
<circle cx="2271.5" cy="204.9" r="7.500" fill="none" stroke="#222" stroke-width="4"/>
<text x="2266.5" y="303" font-size="32.8" fill="#222" text-anchor="middle" textLength="46.6">MA</text>
<text x="2266.5" y="391" font-size="32.8" fill="#222" text-anchor="middle" textLength="66">EMA</text>
<text x="2266.5" y="474" font-size="32.8" fill="#222" text-anchor="middle" textLength="80">BOLL</text>
<text x="2266.5" y="551.7" font-size="32.8" fill="#2046A0" font-weight="bold" text-anchor="middle" textLength="67.3">USD</text>
<text x="2266.5" y="629.3" font-size="32.8" fill="#222" text-anchor="middle" textLength="93.4">Signal</text>
<text x="2266.5" y="742.3" font-size="32.8" fill="#222" text-anchor="middle" textLength="91">MACD</text>
<text x="2266.5" y="820.7" font-size="32.8" fill="#222" text-anchor="middle" textLength="59.3">KDJ</text>
<text x="2266.5" y="899" font-size="32.8" fill="#222" text-anchor="middle" textLength="52.3">RSI</text>
<text x="2266.5" y="1011.7" font-size="32.8" fill="#2046A0" font-weight="bold" text-anchor="middle" textLength="45">DB</text>
<rect x="2214" y="671.7" width="105" height="3.300" rx="1.600" fill="#E8E8E8"/>
<rect x="2214" y="940.5" width="105" height="3.300" rx="1.600" fill="#E8E8E8"/>
<text x="91" y="276.6" font-size="26" fill="#8E8E8E" textLength="51">USD</text>
<use href="#rocket" x="156" y="253.500" width="28" height="28"/>
<text x="191.8" y="276.6" font-size="26" fill="#DE543C" textLength="46">Buy</text>
<use href="#chartdn" x="251.800" y="250.500" width="29.500" height="31.500"/>
<text x="287" y="276.6" font-size="26" fill="#2BA66F" textLength="42">Sell</text>
<use href="#party" x="340.500" y="252" width="31" height="31"/>
<text x="378" y="276.6" font-size="26" fill="#6B6B6B" textLength="171">Close Position</text>
<circle cx="2353" cy="1093" r="19" fill="none" stroke="#A0A0A0" stroke-width="3"/>
<text x="91" y="305.4" font-size="26" fill="#8E8E8E" textLength="117">Patterns (</text>
<text x="210.4" y="305.4" font-size="26" fill="#DE543C" textLength="186.2">Double Bottom</text>
<text x="397.5" y="305.4" font-size="26" fill="#DE543C">、</text>
<text x="423.8" y="305.4" font-size="26" fill="#2BA66F" textLength="139.7">Double Top</text>
<text x="564.5" y="305.4" font-size="26" fill="#2BA66F">、</text>
<text x="591.2" y="305.4" font-size="26" fill="#DE543C" textLength="346.5">Head and Shoulders Bottom</text>
<text x="938.5" y="305.4" font-size="26" fill="#DE543C">、</text>
<text x="964.6" y="305.4" font-size="26" fill="#A243C4" textLength="300">Head and Shoulders Top</text>
<text x="1265" y="305.4" font-size="26" fill="#8E8E8E">)</text>
</svg>
</body></html>
